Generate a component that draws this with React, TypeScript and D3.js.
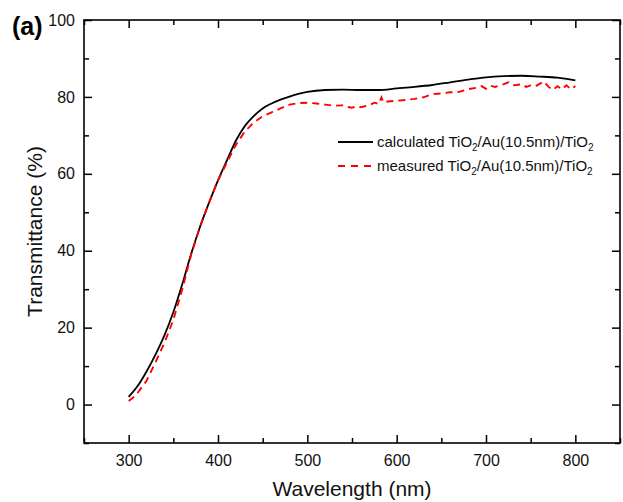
import React, { useRef, useEffect } from "react";
import * as d3 from "d3";

// wavelength (nm) and transmittance (%)
const calcWavelength = [300, 310, 320, 330, 340, 350, 360, 370, 380, 390, 400, 410, 420, 430, 440, 450, 460, 470, 480, 490, 500, 520, 540, 560, 580, 600, 620, 640, 660, 680, 700, 720, 740, 760, 780, 800];
const calcTransmittance = [2.0, 4.8, 8.6, 13.0, 18.0, 24.0, 31.3, 39.2, 46.3, 52.5, 58.3, 63.5, 68.6, 72.4, 75.0, 77.0, 78.3, 79.3, 80.1, 80.8, 81.3, 81.8, 81.9, 81.8, 81.8, 82.2, 82.6, 83.1, 83.8, 84.5, 85.1, 85.4, 85.5, 85.3, 85.0, 84.3];

const measWavelength = [300, 305, 310, 320, 330, 340, 350, 360, 370, 380, 390, 400, 410, 420, 430, 440, 450, 460, 470, 480, 490, 500, 510, 520, 530, 540, 545, 550, 555, 560, 570, 575, 580, 583, 585, 590, 600, 610, 620, 630, 640, 650, 660, 670, 680, 690, 695, 700, 705, 710, 720, 725, 730, 740, 745, 750, 755, 760, 765, 770, 775, 780, 785, 790, 795, 800];
const measTransmittance = [0.9, 1.8, 3.0, 6.2, 11.0, 16.0, 22.0, 30.0, 39.0, 46.3, 52.5, 58.3, 63.0, 67.5, 71.0, 73.3, 75.0, 76.0, 77.0, 78.0, 78.4, 78.5, 78.3, 78.0, 77.7, 77.8, 77.4, 77.2, 77.6, 77.3, 77.9, 78.5, 78.2, 79.9, 78.6, 78.8, 79.0, 79.2, 79.5, 79.9, 80.7, 80.9, 81.2, 81.3, 82.0, 82.4, 82.8, 82.1, 82.9, 82.6, 83.3, 83.8, 83.0, 83.3, 82.6, 83.0, 82.7, 83.4, 84.0, 82.6, 81.8, 82.8, 82.0, 83.0, 82.0, 82.8];

const xMajor = [300, 400, 500, 600, 700, 800];
const xMinor = [250, 350, 450, 550, 650, 750, 850];
const yMajor = [0, 20, 40, 60, 80, 100];
const yMinor = [-10, 10, 30, 50, 70, 90];

const App = () => {
  const svgRef = useRef(null);

  useEffect(() => {
    const w = 623;
    const h = 502;
    const m = { top: 20, right: 3, bottom: 59, left: 84 };
    const font = "Arial, 'Liberation Sans', sans-serif";

    const svg = d3.select(svgRef.current);
    svg.selectAll("*").remove();

    const x = d3.scaleLinear().domain([250, 850]).range([m.left, w - m.right]);
    const y = d3.scaleLinear().domain([-10, 100]).range([h - m.bottom, m.top]);

    const g = svg.append("g");

    // curves
    const calc = calcWavelength.map((d, i) => [d, calcTransmittance[i]]);
    const meas = measWavelength.map((d, i) => [d, measTransmittance[i]]);

    const smooth = d3
      .line()
      .x((d) => x(d[0]))
      .y((d) => y(d[1]))
      .curve(d3.curveMonotoneX);
    const raw = d3
      .line()
      .x((d) => x(d[0]))
      .y((d) => y(d[1]));

    g.append("path")
      .attr("d", smooth(calc))
      .attr("fill", "none")
      .attr("stroke", "#000")
      .attr("stroke-width", 1.8);

    g.append("path")
      .attr("d", raw(meas))
      .attr("fill", "none")
      .attr("stroke", "#ff0000")
      .attr("stroke-width", 1.9)
      .attr("stroke-dasharray", "7,5");

    // axes, ticks pointing inside
    const styleAxis = (sel) => {
      sel.select(".domain").remove();
      sel.selectAll(".tick line").attr("stroke", "#000").attr("stroke-width", 1.5);
      sel.selectAll(".tick text").attr("font-family", font).attr("font-size", 16).attr("fill", "#111");
    };

    g.append("g")
      .attr("transform", `translate(0,${h - m.bottom})`)
      .call(d3.axisBottom(x).tickValues(xMajor).tickSize(-8).tickPadding(12).tickFormat(d3.format("d")))
      .call(styleAxis);
    g.append("g")
      .attr("transform", `translate(0,${h - m.bottom})`)
      .call(d3.axisBottom(x).tickValues(xMinor).tickSize(-5).tickFormat(() => ""))
      .call(styleAxis);
    g.append("g")
      .attr("transform", `translate(0,${m.top})`)
      .call(d3.axisTop(x).tickValues(xMajor).tickSize(-8).tickFormat(() => ""))
      .call(styleAxis);
    g.append("g")
      .attr("transform", `translate(0,${m.top})`)
      .call(d3.axisTop(x).tickValues(xMinor).tickSize(-5).tickFormat(() => ""))
      .call(styleAxis);

    g.append("g")
      .attr("transform", `translate(${m.left},0)`)
      .call(d3.axisLeft(y).tickValues(yMajor).tickSize(-8).tickPadding(9).tickFormat(d3.format("d")))
      .call(styleAxis);
    g.append("g")
      .attr("transform", `translate(${m.left},0)`)
      .call(d3.axisLeft(y).tickValues(yMinor).tickSize(-5).tickFormat(() => ""))
      .call(styleAxis);
    g.append("g")
      .attr("transform", `translate(${w - m.right},0)`)
      .call(d3.axisRight(y).tickValues(yMajor).tickSize(-8).tickFormat(() => ""))
      .call(styleAxis);
    g.append("g")
      .attr("transform", `translate(${w - m.right},0)`)
      .call(d3.axisRight(y).tickValues(yMinor).tickSize(-5).tickFormat(() => ""))
      .call(styleAxis);

    // frame
    g.append("rect")
      .attr("x", m.left)
      .attr("y", m.top)
      .attr("width", w - m.left - m.right)
      .attr("height", h - m.top - m.bottom)
      .attr("fill", "none")
      .attr("stroke", "#000")
      .attr("stroke-width", 1.6);

    // axis titles
    g.append("text")
      .attr("x", (m.left + w - m.right) / 2)
      .attr("y", 496)
      .attr("text-anchor", "middle")
      .attr("font-family", font)
      .attr("font-size", 21)
      .attr("fill", "#111")
      .text("Wavelength (nm)");
    g.append("text")
      .attr("transform", `translate(42,${(m.top + h - m.bottom) / 2}) rotate(-90)`)
      .attr("text-anchor", "middle")
      .attr("font-family", font)
      .attr("font-size", 21)
      .attr("fill", "#111")
      .text("Transmittance (%)");

    // panel label
    g.append("text")
      .attr("x", 12)
      .attr("y", 35)
      .attr("font-family", font)
      .attr("font-size", 25)
      .attr("font-weight", "bold")
      .attr("fill", "#000")
      .text("(a)");

    // legend
    const legend = [
      { label: "calculated", color: "#000", dash: null, y: 142 },
      { label: "measured", color: "#ff0000", dash: "7,6", y: 166 },
    ];
    legend.forEach((l) => {
      g.append("line")
        .attr("x1", 338)
        .attr("x2", 373)
        .attr("y1", l.y)
        .attr("y2", l.y)
        .attr("stroke", l.color)
        .attr("stroke-width", 1.9)
        .attr("stroke-dasharray", l.dash);
      const t = g
        .append("text")
        .attr("x", 377)
        .attr("y", l.y + 5)
        .attr("font-family", font)
        .attr("font-size", 15)
        .attr("fill", "#111");
      t.append("tspan").text(`${l.label} TiO`);
      t.append("tspan").attr("font-size", 10).attr("dy", 4).text("2");
      t.append("tspan").attr("dy", -4).text("/Au(10.5nm)/TiO");
      t.append("tspan").attr("font-size", 10).attr("dy", 4).text("2");
    });
  }, []);

  return (
    <svg
      ref={svgRef}
      width={623}
      height={502}
      style={{ position: "absolute", left: 0, top: 0, background: "#fff" }}
    ></svg>
  );
};

export default App;
